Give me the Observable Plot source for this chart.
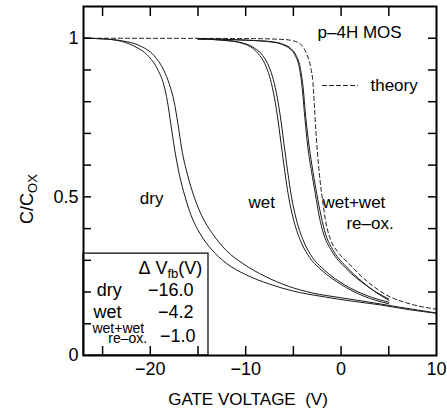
<!DOCTYPE html>
<html><head><meta charset="utf-8">
<script src="https://cdn.jsdelivr.net/npm/d3@7"></script>
<script src="https://cdn.jsdelivr.net/npm/@observablehq/plot@0.6"></script>
<style>
html,body{margin:0;padding:0;background:#fff;}
#chart svg{display:block;}
</style>
</head><body><div id="chart"></div>
<script>
// ---- data: [gate voltage (V), C/Cox] ----
const dry1 = [[-27,1.0],[-25,0.998],[-23,0.99],[-21.5,0.972],[-20.3,0.947],[-19.2,0.90],[-18.6,0.855],[-18.2,0.80],[-17.85,0.73],[-17.45,0.65],[-16.95,0.57],[-16.35,0.50],[-15.7,0.44],[-14.8,0.385],[-13.6,0.335],[-12,0.29],[-10,0.255],[-7.5,0.225],[-5,0.203],[-2,0.186],[1,0.172],[4,0.16],[7,0.145],[10,0.133]];
const dry2 = [[-27,1.0],[-25,0.998],[-23,0.992],[-21,0.975],[-19.6,0.945],[-18.6,0.90],[-18.0,0.855],[-17.5,0.80],[-17.1,0.73],[-16.7,0.65],[-16.1,0.57],[-15.4,0.50],[-14.6,0.44],[-13.5,0.385],[-12,0.33],[-10.3,0.29],[-8,0.25],[-5.5,0.218],[-3,0.197],[0,0.182],[3,0.168],[6,0.153],[10,0.134]];
const wet1 = [[-15,0.998],[-12.5,0.994],[-10.6,0.986],[-9.5,0.973],[-8.7,0.952],[-8.0,0.92],[-7.5,0.88],[-7.1,0.83],[-6.7,0.76],[-6.3,0.67],[-5.9,0.58],[-5.5,0.50],[-5.0,0.43],[-4.3,0.365],[-3.5,0.318],[-2,0.268],[0,0.224],[2.3,0.188],[5,0.163]];
const wet2 = [[-15,0.998],[-12.5,0.994],[-10.6,0.987],[-9.3,0.973],[-8.4,0.952],[-7.7,0.92],[-7.2,0.88],[-6.8,0.83],[-6.4,0.76],[-6.0,0.67],[-5.6,0.58],[-5.2,0.50],[-4.7,0.43],[-4.0,0.365],[-3.2,0.318],[-1.7,0.268],[0.3,0.224],[2.6,0.19],[5,0.168]];
const reox1 = [[-15,0.998],[-10,0.994],[-7,0.987],[-6,0.978],[-5.3,0.965],[-4.8,0.945],[-4.4,0.91],[-4.1,0.85],[-3.8,0.75],[-3.5,0.66],[-3.1,0.58],[-2.7,0.51],[-2.3,0.44],[-1.8,0.38],[-1.0,0.33],[0.5,0.275],[2,0.235],[3.5,0.203],[5,0.178]];
const reox2 = [[-15,0.998],[-10,0.994],[-7,0.988],[-6,0.98],[-5.2,0.966],[-4.7,0.945],[-4.3,0.91],[-4.0,0.85],[-3.7,0.75],[-3.35,0.66],[-2.95,0.58],[-2.55,0.51],[-2.1,0.44],[-1.6,0.38],[-0.8,0.33],[0.7,0.275],[2.2,0.233],[3.6,0.2],[5,0.174]];
const theory = [[-27,1.0],[-10,0.999],[-6,0.996],[-4.8,0.99],[-4.2,0.98],[-3.6,0.95],[-3.2,0.91],[-2.95,0.86],[-2.8,0.79],[-2.65,0.71],[-2.45,0.63],[-2.2,0.55],[-1.9,0.48],[-1.6,0.42],[-1.1,0.365],[-0.3,0.325],[0.8,0.29],[2.3,0.245],[4.8,0.19],[7.2,0.163],[10,0.146]];

// ---- ticks & labels ----
const xMajor = [-20, -10, 0, 10];
const xAll = [-25, -20, -15, -10, -5, 0, 5];
const yAll = [0.1, 0.2, 0.3, 0.4, 0.5, 0.6, 0.7, 0.8, 0.9, 1.0];
const yLabels = [0, 0.5, 1];
const legendNames = ["dry", "wet"];
const legendValues = ["\u221216.0", "\u22124.2", "\u22121.0"];
const curveNames = ["dry", "wet", "wet+wet", "re\u2013ox."];

// ---- layout (annotation anchors in data units) ----
const FONT = "'Liberation Sans', Arial, Helvetica, sans-serif";
const curveLabelPos = [[-21.1, 0.476], [-9.7, 0.466], [-1.95, 0.466], [0.56, 0.40]];
const legendNamePos = [[-25.6, 0.186], [-25.95, 0.117]];
const legendValuePos = [[-15.46, 0.186], [-15.46, 0.117], [-15.26, 0.041]];
const boxCorners = {x1: -27, x2: -13.9, y1: 0, y2: 0.321};
const theoryKey = [[-1.95, 0.851], [1.72, 0.851]];

const line = (d, extra = {}) => Plot.line(d, {x: p => p[0], y: p => p[1], stroke: "#1a1a1a", strokeWidth: 1, curve: "monotone-x", ...extra});
const txt = (texts, pos, opts) => Plot.text(texts.map((t, i) => ({t, x: pos[i][0], y: pos[i][1]})), {x: "x", y: "y", text: "t", fill: "black", lineAnchor: "bottom", ...opts});

const chart = Plot.plot({
  width: 447, height: 416,
  marginLeft: 83, marginRight: 11, marginTop: 6, marginBottom: 61,
  style: {fontFamily: FONT, background: "white", color: "black"},
  x: {domain: [-27, 10], axis: null},
  y: {domain: [0, 1.1], axis: null},
  marks: [
    line(theory, {strokeDasharray: "4,3"}),
    line(dry1), line(dry2), line(wet1), line(wet2), line(reox1), line(reox2),
    Plot.line(theoryKey, {x: p => p[0], y: p => p[1], stroke: "#1a1a1a", strokeWidth: 1, strokeDasharray: "4,3"}),
    Plot.rect([boxCorners], {x1: "x1", x2: "x2", y1: "y1", y2: "y2", fill: "none", stroke: "#333", strokeWidth: 1.5}),
    Plot.axisX({anchor: "bottom", ticks: xAll, tickSize: -9, fill: "none", label: null, strokeWidth: 1.5}),
    Plot.axisX({anchor: "top", ticks: xAll, tickSize: -9, fill: "none", label: null, strokeWidth: 1.5}),
    Plot.axisY({anchor: "left", ticks: yAll, tickSize: -8, fill: "none", label: null, strokeWidth: 1.5}),
    Plot.axisY({anchor: "right", ticks: yAll, tickSize: -9, fill: "none", label: null, strokeWidth: 1.5}),
    Plot.axisX({anchor: "bottom", ticks: xMajor, tickSize: 0, tickPadding: 7, label: null, fontSize: 18}),
    Plot.axisY({anchor: "left", ticks: yLabels, tickSize: 0, tickPadding: 5, tickFormat: d => String(d), label: null, fontSize: 18}),
    Plot.frame({stroke: "black", strokeWidth: 2}),
    txt(curveNames, curveLabelPos, {textAnchor: "start", fontSize: 17}),
    txt(legendNames, legendNamePos, {textAnchor: "start", fontSize: 18}),
    txt(legendValues, legendValuePos, {textAnchor: "end", fontSize: 18}),
    Plot.text(["p\u20134H MOS"], {x: -2.47, y: 1.002, textAnchor: "start", lineAnchor: "bottom", fontSize: 17, fill: "black"}),
    Plot.text(["theory"], {x: 3.08, y: 0.835, textAnchor: "start", lineAnchor: "bottom", fontSize: 17, fill: "black"}),
    Plot.text(["wet+wet"], {x: -26.06, y: 0.072, textAnchor: "start", lineAnchor: "bottom", fontSize: 14, fill: "black"}),
    Plot.text(["re\u2013ox."], {x: -24.4, y: 0.038, textAnchor: "start", lineAnchor: "bottom", fontSize: 14, fill: "black"}),
    Plot.text(["GATE VOLTAGE\u00a0\u00a0(V)"], {frameAnchor: "bottom", dx: -12, dy: 49, lineAnchor: "bottom", fontSize: 17, fill: "black"})
  ]
});

// subscripted texts
const svg = d3.select(chart);
const sx = chart.scale("x"), sy = chart.scale("y");
const dv = svg.append("text")
  .attr("x", sx.apply(-14.5)).attr("y", sy.apply(0.255))
  .attr("text-anchor", "end").attr("font-size", 18).attr("fill", "black").attr("font-family", FONT);
dv.append("tspan").text("\u0394\u00a0V");
dv.append("tspan").attr("font-size", 13).attr("dy", 4).text("fb");
dv.append("tspan").attr("dy", -4).text("(V)");

const yt = svg.append("text")
  .attr("transform", "translate(33,199) rotate(-90)")
  .attr("text-anchor", "middle").attr("font-size", 18).attr("fill", "black").attr("font-family", FONT);
yt.append("tspan").text("C/C");
yt.append("tspan").attr("font-size", 13).attr("dy", 4).text("OX");

document.getElementById("chart").appendChild(chart);
</script>
</body></html>
